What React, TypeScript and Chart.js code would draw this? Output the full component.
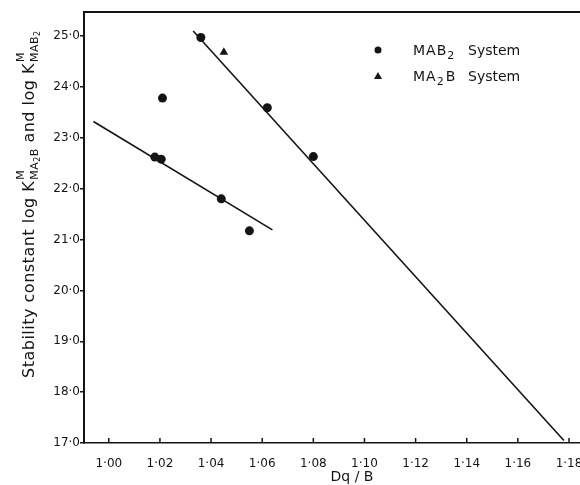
import React, { useEffect, useRef } from "react";
import { Chart, registerables } from "chart.js";

Chart.register(...registerables);

// ---- data ----
const mab2X = [1.018, 1.0205, 1.021, 1.036, 1.044, 1.055, 1.062, 1.08];
const mab2Y = [22.62, 22.58, 23.78, 24.97, 21.8, 21.17, 23.59, 22.63];
const ma2bX = [1.045];
const ma2bY = [24.68];
const fitSteepX = [1.033, 1.178];
const fitSteepY = [25.1, 17.05];
const fitShallowX = [0.994, 1.064];
const fitShallowY = [23.32, 21.19];

const xTickValues = [1.0, 1.02, 1.04, 1.06, 1.08, 1.1, 1.12, 1.14, 1.16, 1.18];
const xTickLabels = ["1·00", "1·02", "1·04", "1·06", "1·08", "1·10", "1·12", "1·14", "1·16", "1·18"];
const yTickValues = [17, 18, 19, 20, 21, 22, 23, 24, 25];
const yTickLabels = ["17·0", "18·0", "19·0", "20·0", "21·0", "22·0", "23·0", "24·0", "25·0"];
const legendNames = [
  ["MAB", "2", "", " System"],
  ["MA", "2", "B", " System"],
];
const xTitle = "Dq / B";

const INK = "#141414";
const FONT = '"DejaVu Sans"';

const toPoints = (xs: number[], ys: number[]) => xs.map((x, i) => ({ x, y: ys[i] }));

const decorPlugin = {
  id: "decor",
  afterDraw(chart: any) {
    const ctx: CanvasRenderingContext2D = chart.ctx;
    const area = chart.chartArea;
    const xs = chart.scales.x;
    ctx.save();
    ctx.strokeStyle = INK;
    ctx.fillStyle = INK;
    // top frame line
    ctx.lineWidth = 2;
    ctx.beginPath();
    ctx.moveTo(area.left, area.top);
    ctx.lineTo(chart.width, area.top);
    ctx.stroke();
    // inward x ticks
    ctx.lineWidth = 1.5;
    xTickValues.forEach((v) => {
      const px = xs.getPixelForValue(v);
      ctx.beginPath();
      ctx.moveTo(px, area.bottom);
      ctx.lineTo(px, area.bottom - 5);
      ctx.stroke();
    });

    // legend
    const lx = 378;
    const rows = [50, 76];
    rows.forEach((cy, i) => {
      if (i === 0) {
        ctx.beginPath();
        ctx.arc(lx, cy, 3.5, 0, Math.PI * 2);
        ctx.fill();
      } else {
        ctx.beginPath();
        ctx.moveTo(lx, cy - 4);
        ctx.lineTo(lx + 4, cy + 3);
        ctx.lineTo(lx - 4, cy + 3);
        ctx.closePath();
        ctx.fill();
      }
      const [a, sub, b, rest] = legendNames[i];
      const base = cy + 5;
      let x = 413;
      ctx.textAlign = "left";
      ctx.textBaseline = "alphabetic";
      ctx.font = `14px ${FONT}`;
      (ctx as any).letterSpacing = "1px";
      ctx.fillText(a, x, base);
      x += ctx.measureText(a).width;
      ctx.font = `11px ${FONT}`;
      ctx.fillText(sub, x, base + 4);
      x += ctx.measureText(sub).width + 1;
      ctx.font = `14px ${FONT}`;
      if (b) {
        ctx.fillText(b, x, base);
      }
      (ctx as any).letterSpacing = "0px";
      ctx.fillText(rest.trim(), 468, base);
    });

    // x title
    ctx.font = `14px ${FONT}`;
    ctx.textAlign = "center";
    ctx.textBaseline = "middle";
    ctx.fillText(xTitle, 352, 477);

    // y title (rotated)
    ctx.translate(34, 378);
    ctx.rotate(-Math.PI / 2);
    ctx.textAlign = "left";
    ctx.textBaseline = "alphabetic";
    (ctx as any).letterSpacing = "0.5px";
    let tx = 0;
    const main = `16px ${FONT}`;
    const small = `11px ${FONT}`;
    const tiny = `8px ${FONT}`;
    const seg = (t: string, font: string, dy: number) => {
      ctx.font = font;
      ctx.fillText(t, tx, dy);
      tx += ctx.measureText(t).width;
    };
    const kGroup = (subParts: [string, string][]) => {
      seg("K", main, 0);
      const x0 = tx;
      ctx.font = small;
      ctx.fillText("M", x0 + 1, -10);
      tx = x0 + 1;
      subParts.forEach(([t, kind]) => seg(t, kind === "s" ? small : tiny, kind === "s" ? 4 : 6));
    };
    seg("Stability constant log ", main, 0);
    kGroup([["MA", "s"], ["2", "t"], ["B", "s"]]);
    seg(" and log ", main, 0);
    kGroup([["MAB", "s"], ["2", "t"]]);
    (ctx as any).letterSpacing = "0px";
    ctx.restore();
  },
};

export default function App() {
  const ref = useRef<HTMLCanvasElement | null>(null);
  useEffect(() => {
    if (!ref.current) return;
    const chart = new Chart(ref.current, {
      type: "scatter",
      data: {
        datasets: [
          {
            label: "MAB2 System",
            data: toPoints(mab2X, mab2Y),
            pointStyle: "circle",
            pointRadius: 4.5,
            backgroundColor: INK,
            borderColor: INK,
            borderWidth: 0,
          },
          {
            label: "MA2B System",
            data: toPoints(ma2bX, ma2bY),
            pointStyle: "triangle",
            pointRadius: 5,
            backgroundColor: INK,
            borderColor: INK,
            borderWidth: 0,
          },
          {
            label: "fit MAB2",
            data: toPoints(fitSteepX, fitSteepY),
            showLine: true,
            pointRadius: 0,
            borderColor: INK,
            borderWidth: 1.6,
          },
          {
            label: "fit MA2B",
            data: toPoints(fitShallowX, fitShallowY),
            showLine: true,
            pointRadius: 0,
            borderColor: INK,
            borderWidth: 1.6,
          },
        ],
      },
      options: {
        responsive: false,
        animation: false,
        devicePixelRatio: 1,
        layout: { autoPadding: false, padding: { top: 12, left: 0, right: 0, bottom: 0 } },
        plugins: { legend: { display: false }, tooltip: { enabled: false } },
        scales: {
          x: {
            type: "linear",
            min: 0.9903,
            max: 1.1843,
            afterBuildTicks: (s: any) => {
              s.ticks = xTickValues.map((value) => ({ value }));
            },
            afterFit: (s: any) => {
              s.height = 42;
              s.paddingLeft = 0;
              s.paddingRight = 0;
            },
            ticks: {
              autoSkip: false,
              maxRotation: 0,
              padding: 6,
              color: INK,
              font: { family: "DejaVu Sans", size: 12 },
              callback: (_v: any, i: number) => xTickLabels[i],
            },
            grid: { display: false },
            border: { display: true, color: INK, width: 1.5 },
          },
          y: {
            type: "linear",
            min: 17,
            max: 25.472,
            afterBuildTicks: (s: any) => {
              s.ticks = yTickValues.map((value) => ({ value }));
            },
            afterFit: (s: any) => {
              s.width = 84;
              s.paddingTop = 0;
              s.paddingBottom = 0;
            },
            ticks: {
              autoSkip: false,
              padding: 0,
              color: INK,
              font: { family: "DejaVu Sans", size: 12 },
              callback: (_v: any, i: number) => yTickLabels[i],
            },
            grid: {
              display: true,
              drawOnChartArea: false,
              drawTicks: true,
              tickLength: 4,
              color: INK,
              lineWidth: 1.5,
            },
            border: { display: true, color: INK, width: 2 },
          },
        },
      },
      plugins: [decorPlugin],
    });
    return () => chart.destroy();
  }, []);

  return (
    <div style={{ position: "fixed", left: 0, top: 0, width: 580, height: 485, background: "#fff" }}>
      <canvas ref={ref} width={580} height={485} style={{ display: "block" }} />
    </div>
  );
}
